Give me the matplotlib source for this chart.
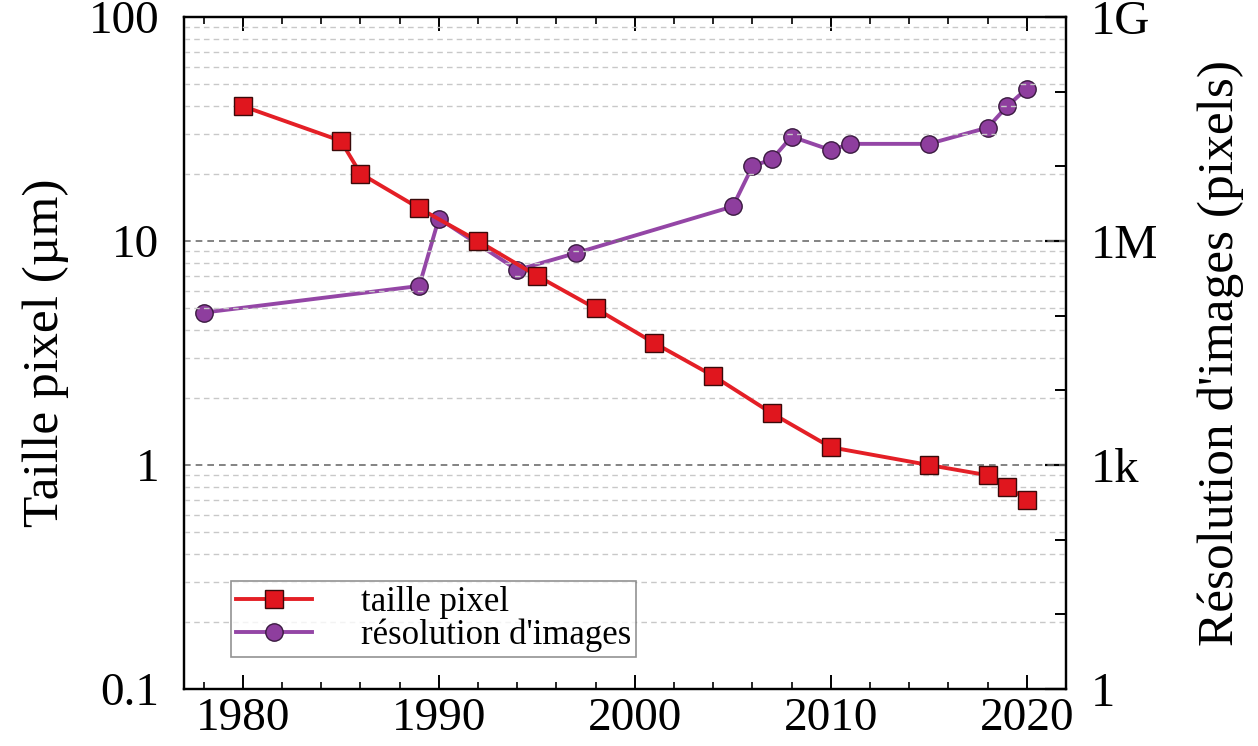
import numpy as np
import matplotlib
matplotlib.use('Agg')
from matplotlib import pyplot as plt
from matplotlib.ticker import LogLocator, FixedLocator, NullFormatter, MultipleLocator

plt.rcParams['font.family'] = ['Liberation Serif', 'DejaVu Serif']

# taille pixel (um)
years_px = [1980, 1985, 1986, 1989, 1992, 1995, 1998, 2001, 2004, 2007, 2010, 2015, 2018, 2019, 2020]
taille_px = [40, 28, 20, 14, 10, 7, 5, 3.5, 2.5, 1.7, 1.2, 1.0, 0.9, 0.8, 0.7]

# resolution d'images (pixels)
years_res = [1978, 1989, 1990, 1994, 1997, 2005, 2006, 2007, 2008, 2010, 2011, 2015, 2018, 2019, 2020]
resolution = [1.1e5, 2.5e5, 2.0e6, 4.1e5, 6.9e5, 2.9e6, 1.0e7, 1.25e7, 2.5e7, 1.65e7, 2.0e7, 2.0e7, 3.3e7, 6.4e7, 1.1e8]

x_ticks = [1980, 1990, 2000, 2010, 2020]
left_ticks = [0.1, 1, 10, 100]
left_labels = ['0.1', '1', '10', '100']
right_ticks = [1, 1e3, 1e6, 1e9]
right_labels = ['1', '1k', '1M', '1G']

red = '#E41F26'
purple = '#9446A6'

fig = plt.figure(figsize=(12.58, 7.46), dpi=100)
ax1 = fig.add_axes([0.1463, 0.0764, 0.7011, 0.9008])
ax2 = ax1.twinx()
ax1.set_zorder(ax2.get_zorder() + 1)
ax1.patch.set_visible(False)

ax2.plot(years_res, resolution, color=purple, lw=2.8, marker='o', ms=12.5,
         mfc='#8E3E9E', mec='#3a1a40', mew=1, label="résolution d'images")
ax1.plot(years_px, taille_px, color=red, lw=2.8, marker='s', ms=12.5,
         mfc='#E0161E', mec='#3a0a0a', mew=1, label='taille pixel')

ax1.set_yscale('log')
ax1.set_ylim(0.1, 100)
ax1.set_xlim(1977, 2022)
ax2.set_yscale('log')
ax2.set_ylim(1, 1e9)

ax1.set_xticks(x_ticks)
ax1.xaxis.set_minor_locator(MultipleLocator(2))
ax1.set_yticks(left_ticks)
ax1.set_yticklabels(left_labels)
ax1.yaxis.set_minor_locator(LogLocator(base=10, subs=np.arange(2, 10)))
ax1.yaxis.set_minor_formatter(NullFormatter())

ax2.set_yticks(right_ticks)
ax2.set_yticklabels(right_labels)
ax2.yaxis.set_minor_locator(FixedLocator([1e1, 1e2, 1e4, 1e5, 1e7, 1e8]))
ax2.yaxis.set_minor_formatter(NullFormatter())

ax1.grid(which='minor', axis='y', ls=(0, (4, 3)), color='#c8c8c8', lw=1)
ax1.grid(which='major', axis='y', ls=(0, (4, 3)), color='#6e6e6e', lw=1.2)

ax1.tick_params(axis='both', which='major', direction='in', length=10, width=1.4,
                labelsize=34, top=True, pad=6)
ax1.tick_params(axis='both', which='minor', direction='in', length=5, width=1.2, top=True)
ax1.tick_params(axis='y', which='both', length=0, pad=18)
ax2.tick_params(axis='y', which='major', direction='in', length=15, width=1.6, labelsize=35, pad=18)
ax2.tick_params(axis='y', which='minor', direction='in', length=8, width=1.4)

for ax in (ax1, ax2):
    for s in ax.spines.values():
        s.set_linewidth(1.6)
        s.set_color('black')

ax1.set_ylabel('Taille pixel (µm)', fontsize=37, labelpad=14)
ax2.set_ylabel("Résolution d'images (pixels)", fontsize=37, labelpad=28)

h1, l1 = ax1.get_legend_handles_labels()
h2, l2 = ax2.get_legend_handles_labels()
leg = ax1.legend(h1 + h2, l1 + l2, loc='lower left', bbox_to_anchor=(0.053, 0.047),
                 borderaxespad=0, fontsize=25, frameon=True, fancybox=False,
                 edgecolor='#777777', handlelength=2.2, handletextpad=1.4,
                 borderpad=0.15, labelspacing=0.0)
leg.get_frame().set_linewidth(1.2)

fig.savefig('out.png', dpi=100)
